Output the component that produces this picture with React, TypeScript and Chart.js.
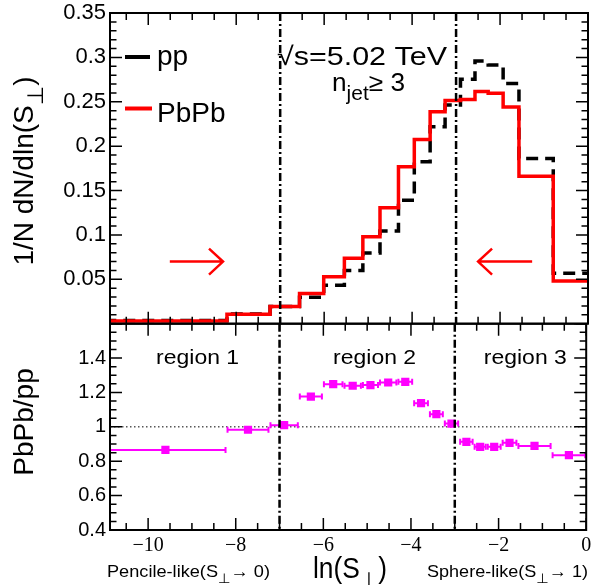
import React, { useEffect, useRef } from 'react';
import { Chart, registerables } from 'chart.js';
Chart.register(...registerables);

// ---------------- data ----------------
const binEdges = [-11, -8.21, -7.23, -6.56, -6.01, -5.54, -5.12, -4.73, -4.31, -3.95, -3.59, -3.25, -2.9, -2.57, -2.27, -1.93, -1.57, -0.79, 0];
const ppValues = [0.0035, 0.0108, 0.0193, 0.0297, 0.0432, 0.0598, 0.0797, 0.1045, 0.139, 0.1824, 0.2218, 0.2463, 0.2755, 0.296, 0.2913, 0.2707, 0.1862, 0.0567];
const pbpbValues = [0.003, 0.0106, 0.0195, 0.034, 0.053, 0.0736, 0.098, 0.1306, 0.1768, 0.2076, 0.2388, 0.2515, 0.2525, 0.2615, 0.2595, 0.2442, 0.166, 0.048];
const ratioValues = [0.866, 0.983, 1.01, 1.176, 1.248, 1.239, 1.243, 1.258, 1.262, 1.138, 1.074, 1.019, 0.913, 0.884, 0.884, 0.907, 0.889, 0.835];
const xTicks = [-10, -8, -6, -4, -2, 0];
const topYTicks = [0.05, 0.1, 0.15, 0.2, 0.25, 0.3, 0.35];
const ratioYTicks = [0.4, 0.6, 0.8, 1, 1.2, 1.4];
const regionBounds = [-7, -3];
const regionLabels = ['region 1', 'region 2', 'region 3'];
const regionLabelX = [-8.87, -4.83, -1.39];
const regionLabelY = 1.366;
const arrowRight = { from: -9.51, to: -8.3, y: 0.07 };
const arrowLeft = { from: -1.27, to: -2.5, y: 0.07 };
const X_MIN = -10.87;
const X_MAX = 0;

const SANS = '"Liberation Sans", Arial, Helvetica, "DejaVu Sans", sans-serif';
const SERIF = '"Liberation Serif", "Times New Roman", serif';
const B_TOP = 300;

type Part = { t: string; sub?: boolean };

function drawRich(
  ctx: CanvasRenderingContext2D,
  parts: Part[],
  x: number,
  y: number,
  size: number,
  align: 'left' | 'center',
  width?: number,
  rotate?: boolean,
  color = '#000'
) {
  ctx.save();
  ctx.translate(x, y);
  if (rotate) ctx.rotate(-Math.PI / 2);
  ctx.fillStyle = color;
  ctx.textBaseline = 'alphabetic';
  ctx.textAlign = 'left';
  const fontOf = (p: Part) => `${p.sub ? size * 0.8 : size}px ${SANS}`;
  const widths = parts.map((p) => {
    ctx.font = fontOf(p);
    return ctx.measureText(p.t).width;
  });
  const total = widths.reduce((s, w) => s + w, 0);
  const sx = width ? width / total : 1;
  ctx.scale(sx, 1);
  let cx = align === 'left' ? 0 : -total / 2;
  parts.forEach((p, i) => {
    ctx.font = fontOf(p);
    ctx.fillText(p.t, cx, p.sub ? size * 0.36 : 0);
    cx += widths[i];
  });
  ctx.restore();
}

function drawFrameAndTicks(chart: any, yMinor: number, yMajor: number) {
  const { ctx, chartArea: a, scales } = chart;
  const x = scales.x;
  const y = scales.y;
  ctx.save();
  ctx.strokeStyle = '#000';
  ctx.lineWidth = 1.5;
  ctx.setLineDash([]);
  ctx.beginPath();
  for (let i = Math.ceil(X_MIN / 0.5); i * 0.5 <= X_MAX + 1e-9; i++) {
    const v = i * 0.5;
    const px = x.getPixelForValue(v);
    const major = xTicks.some((t) => Math.abs(t - v) < 1e-6);
    const L = major ? 12 : 7;
    ctx.moveTo(px, a.bottom);
    ctx.lineTo(px, a.bottom - L);
    ctx.moveTo(px, a.top);
    ctx.lineTo(px, a.top + L);
  }
  const n = Math.round((y.max - y.min) / yMinor);
  for (let i = 0; i <= n; i++) {
    const v = y.min + i * yMinor;
    const r = v / yMajor;
    const major = Math.abs(r - Math.round(r)) < 1e-6;
    const L = major ? 12 : 6.5;
    const py = y.getPixelForValue(v);
    ctx.moveTo(a.left, py);
    ctx.lineTo(a.left + L, py);
    ctx.moveTo(a.right, py);
    ctx.lineTo(a.right - L, py);
  }
  ctx.stroke();
  ctx.lineWidth = 2;
  ctx.strokeRect(a.left, a.top, a.right - a.left, a.bottom - a.top);
  ctx.restore();
}

function drawDashDot(chart: any) {
  const { ctx, chartArea: a, scales } = chart;
  ctx.save();
  ctx.strokeStyle = '#000';
  ctx.lineWidth = 2.5;
  ctx.setLineDash([8, 3, 2, 3]);
  regionBounds.forEach((v) => {
    const px = scales.x.getPixelForValue(v);
    ctx.beginPath();
    ctx.moveTo(px, a.top);
    ctx.lineTo(px, a.bottom);
    ctx.stroke();
  });
  ctx.restore();
}

function drawArrow(ctx: CanvasRenderingContext2D, x0: number, x1: number, y: number) {
  const s = x1 > x0 ? 1 : -1;
  ctx.save();
  ctx.strokeStyle = '#ff0000';
  ctx.lineWidth = 2.5;
  ctx.beginPath();
  ctx.moveTo(x0, y);
  ctx.lineTo(x1, y);
  ctx.moveTo(x1 - s * 14, y - 13);
  ctx.lineTo(x1, y);
  ctx.lineTo(x1 - s * 14, y + 13);
  ctx.stroke();
  ctx.restore();
}

function histPoints(values: number[]) {
  const pts: { x: number; y: number }[] = [];
  values.forEach((v, i) => {
    pts.push({ x: binEdges[i], y: v });
    pts.push({ x: binEdges[i + 1], y: v });
  });
  return pts;
}

const topPlugin = {
  id: 'topDeco',
  afterDatasetsDraw(chart: any) {
    const { ctx, scales } = chart;
    const x = scales.x;
    const y = scales.y;
    drawDashDot(chart);
    drawArrow(ctx, x.getPixelForValue(arrowRight.from), x.getPixelForValue(arrowRight.to), y.getPixelForValue(arrowRight.y));
    drawArrow(ctx, x.getPixelForValue(arrowLeft.from), x.getPixelForValue(arrowLeft.to), y.getPixelForValue(arrowLeft.y));
    drawFrameAndTicks(chart, 0.01, 0.05);
    // legend
    ctx.save();
    ctx.lineWidth = 4;
    ctx.strokeStyle = '#000';
    ctx.beginPath();
    ctx.moveTo(125, 57);
    ctx.lineTo(150, 57);
    ctx.stroke();
    ctx.strokeStyle = '#ff0000';
    ctx.beginPath();
    ctx.moveTo(125, 108.5);
    ctx.lineTo(152, 108.5);
    ctx.stroke();
    ctx.restore();
    drawRich(ctx, [{ t: 'pp' }], 157, 65, 28, 'left');
    drawRich(ctx, [{ t: 'PbPb' }], 157, 121.5, 28, 'left');
    // annotations
    drawRich(ctx, [{ t: '\u221As=5.02 TeV' }], 277, 65, 26, 'left', 170);
    drawRich(ctx, [{ t: 'n' }, { t: 'jet', sub: true }, { t: '\u2265 3' }], 332, 91, 25, 'left', 73);
    // y title
    drawRich(ctx, [{ t: '1/N dN/dln(S' }, { t: '\u22A5', sub: true }, { t: ')' }], 33, 171, 28, 'center', undefined, true);
  },
};

const botPlugin = {
  id: 'botDeco',
  beforeDatasetsDraw(chart: any) {
    const { ctx, chartArea: a, scales } = chart;
    const x = scales.x;
    const y = scales.y;
    ctx.save();
    ctx.beginPath();
    ctx.rect(a.left, a.top, a.right - a.left, a.bottom - a.top);
    ctx.clip();
    ctx.strokeStyle = '#000';
    ctx.lineWidth = 1;
    ctx.setLineDash([1.5, 2.5]);
    ctx.beginPath();
    ctx.moveTo(a.left, y.getPixelForValue(1));
    ctx.lineTo(a.right, y.getPixelForValue(1));
    ctx.stroke();
    ctx.setLineDash([]);
    ctx.strokeStyle = '#ff00ff';
    ctx.lineWidth = 2;
    ratioValues.forEach((v, i) => {
      const py = y.getPixelForValue(v);
      const xl = x.getPixelForValue(binEdges[i]);
      const xr = x.getPixelForValue(binEdges[i + 1]);
      ctx.beginPath();
      ctx.moveTo(xl, py);
      ctx.lineTo(xr, py);
      ctx.moveTo(xl + 1, py - 3);
      ctx.lineTo(xl + 1, py + 3);
      ctx.moveTo(xr - 1, py - 3);
      ctx.lineTo(xr - 1, py + 3);
      ctx.stroke();
    });
    ctx.restore();
  },
  afterDatasetsDraw(chart: any) {
    const { ctx, scales } = chart;
    const x = scales.x;
    const y = scales.y;
    drawDashDot(chart);
    drawFrameAndTicks(chart, 0.05, 0.2);
    regionLabels.forEach((t, i) => {
      drawRich(ctx, [{ t }], x.getPixelForValue(regionLabelX[i]), y.getPixelForValue(regionLabelY), 21, 'center', 83);
    });
    drawRich(ctx, [{ t: 'PbPb/pp' }], 33, 422 - B_TOP, 28, 'center', undefined, true);
    drawRich(ctx, [{ t: 'ln(S' }, { t: '\u22A5', sub: true }, { t: ')' }], 350, 578 - B_TOP, 30, 'center', 74);
    drawRich(ctx, [{ t: 'Pencile-like(S' }, { t: '\u22A5', sub: true }, { t: '\u2192 0)' }], 107, 577 - B_TOP, 17, 'left', 163);
    drawRich(ctx, [{ t: 'Sphere-like(S' }, { t: '\u22A5', sub: true }, { t: '\u2192 1)' }], 427, 577 - B_TOP, 17, 'left', 161);
  },
};

const fmtNum = (v: number) => String(+v.toFixed(2));

export default function App() {
  const topRef = useRef<HTMLCanvasElement>(null);
  const botRef = useRef<HTMLCanvasElement>(null);

  useEffect(() => {
    const top = new Chart(topRef.current as HTMLCanvasElement, {
      type: 'line',
      data: {
        datasets: [
          {
            label: 'PbPb',
            data: histPoints(pbpbValues),
            borderColor: '#ff0000',
            borderWidth: 3.5,
            pointRadius: 0,
            tension: 0,
            fill: false,
            order: 0,
            borderJoinStyle: 'miter',
          },
          {
            label: 'pp',
            data: histPoints(ppValues),
            borderColor: '#000000',
            borderWidth: 3.5,
            borderDash: [12, 7],
            pointRadius: 0,
            tension: 0,
            fill: false,
            order: 1,
            borderJoinStyle: 'miter',
          },
        ],
      } as any,
      options: {
        animation: false,
        responsive: false,
        events: [],
        layout: { padding: { top: 13, right: 4, bottom: 330 - 323.7, left: 0 } },
        plugins: { legend: { display: false }, tooltip: { enabled: false } },
        scales: {
          x: { type: 'linear', min: X_MIN, max: X_MAX, display: false },
          y: {
            type: 'linear',
            min: 0,
            max: 0.35,
            afterFit: (s: any) => {
              s.width = 110;
              s.paddingTop = 0;
              s.paddingBottom = 0;
            },
            afterBuildTicks: (s: any) => {
              s.ticks = topYTicks.map((v) => ({ value: v }));
            },
            grid: { display: false, drawTicks: false },
            border: { display: false },
            ticks: {
              autoSkip: false,
              color: '#000',
              padding: 4,
              font: { family: SANS, size: 22 },
              callback: (v: any) => fmtNum(Number(v)),
            },
          },
        },
      } as any,
      plugins: [topPlugin],
    });

    const bot = new Chart(botRef.current as HTMLCanvasElement, {
      type: 'scatter',
      data: {
        datasets: [
          {
            label: 'PbPb/pp',
            data: ratioValues.map((v, i) => ({ x: (binEdges[i] + binEdges[i + 1]) / 2, y: v })),
            pointStyle: 'rect',
            pointRadius: 5.8,
            pointBackgroundColor: '#ff00ff',
            pointBorderColor: '#ff00ff',
            pointBorderWidth: 0,
            showLine: false,
          },
        ],
      } as any,
      options: {
        animation: false,
        responsive: false,
        events: [],
        layout: { padding: { top: 323.7 - B_TOP, right: 4, bottom: 0, left: 0 } },
        plugins: { legend: { display: false }, tooltip: { enabled: false } },
        scales: {
          x: {
            type: 'linear',
            min: X_MIN,
            max: X_MAX,
            afterFit: (s: any) => {
              s.height = 55;
              s.paddingLeft = 0;
              s.paddingRight = 0;
            },
            afterBuildTicks: (s: any) => {
              s.ticks = xTicks.map((v) => ({ value: v }));
            },
            grid: { display: false, drawTicks: false },
            border: { display: false },
            ticks: {
              autoSkip: false,
              maxRotation: 0,
              color: '#000',
              padding: 4,
              font: { family: SERIF, size: 20 },
              callback: (v: any) => (Number(v) < 0 ? '\u2212' + Math.abs(Number(v)) : String(v)),
            },
          },
          y: {
            type: 'linear',
            min: 0.4,
            max: 1.6,
            afterFit: (s: any) => {
              s.width = 110;
              s.paddingTop = 0;
              s.paddingBottom = 0;
            },
            afterBuildTicks: (s: any) => {
              s.ticks = ratioYTicks.map((v) => ({ value: v }));
            },
            grid: { display: false, drawTicks: false },
            border: { display: false },
            ticks: {
              autoSkip: false,
              color: '#000',
              padding: 4,
              font: { family: SANS, size: 20 },
              callback: (v: any) => fmtNum(Number(v)),
            },
          },
        },
      } as any,
      plugins: [botPlugin],
    });

    return () => {
      top.destroy();
      bot.destroy();
    };
  }, []);

  return (
    <div style={{ position: 'fixed', left: 0, top: 0, width: 592, height: 585, background: '#fff' }}>
      <canvas ref={topRef} width={592} height={330} style={{ position: 'absolute', left: 0, top: 0, width: 592, height: 330 }} />
      <canvas ref={botRef} width={592} height={285} style={{ position: 'absolute', left: 0, top: B_TOP, width: 592, height: 285 }} />
    </div>
  );
}
